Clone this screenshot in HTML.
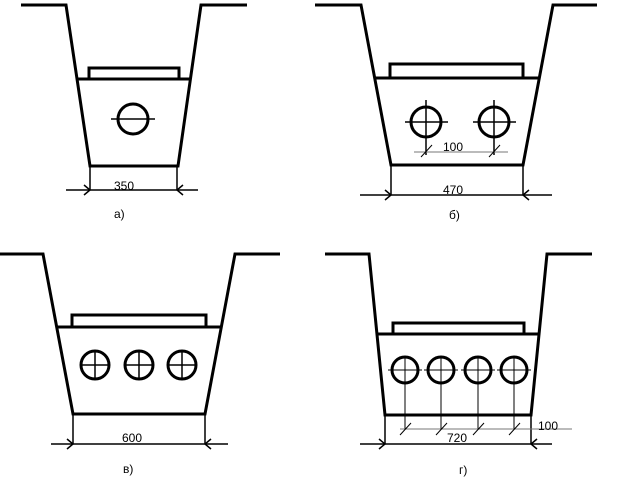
<!DOCTYPE html>
<html><head><meta charset="utf-8"><style>body{margin:0;background:#fff}svg{display:block}text{font-family:"Liberation Sans",sans-serif;font-size:12px;fill:#000;stroke:none}</style></head><body>
<svg width="635" height="488" viewBox="0 0 635 488" xmlns="http://www.w3.org/2000/svg" fill="none" stroke="#000">
<!-- a -->
<g stroke-width="3"><polyline points="21,5 66,5 90,166 178,166 201,5 247,5"/><line x1="77" y1="79" x2="191" y2="79"/><polyline points="89,79 89,68 179,68 179,79"/><circle cx="133" cy="119" r="15"/></g>
<g stroke-width="1.5"><line x1="111" y1="119" x2="155" y2="119"/><line x1="90" y1="166" x2="90" y2="190"/><line x1="177" y1="166" x2="177" y2="190"/><line x1="66" y1="190" x2="198" y2="190"/><polyline points="84,185 90,190 84,195"/><polyline points="183,185 177,190 183,195"/></g>
<text x="114" y="190">350</text><text x="114" y="218">а)</text>
<!-- b -->
<g stroke-width="3"><polyline points="315,5 361,5 391,165 523,165 553,5 597,5"/><line x1="375" y1="78" x2="540" y2="78"/><polyline points="390,78 390,64 523,64 523,78"/><circle cx="426" cy="122" r="15"/><circle cx="494" cy="122" r="15"/></g>
<g stroke-width="1.5"><line x1="405" y1="122" x2="448" y2="122"/><line x1="426" y1="100" x2="426" y2="155"/><line x1="473" y1="122" x2="516" y2="122"/><line x1="494" y1="100" x2="494" y2="155"/><line x1="391" y1="165" x2="391" y2="195"/><line x1="523" y1="165" x2="523" y2="195"/><line x1="360" y1="195" x2="552" y2="195"/><polyline points="385,190 391,195 385,200"/><polyline points="529,190 523,195 529,200"/></g>
<g stroke-width="1"><line x1="414" y1="152" x2="508" y2="152" stroke="#777"/><line x1="421" y1="157" x2="432" y2="145"/><line x1="489" y1="157" x2="500" y2="145"/></g>
<text x="443" y="151" font-size="11">100</text><text x="443" y="194">470</text><text x="449" y="219">б)</text>
<!-- c -->
<g stroke-width="3"><polyline points="0,254 43,254 73,414 205,414 235,254 280,254"/><line x1="58" y1="327" x2="221" y2="327"/><polyline points="72,327 72,315 206,315 206,327"/><circle cx="95" cy="365" r="14"/><circle cx="139" cy="365" r="14"/><circle cx="182" cy="365" r="14"/></g>
<g stroke-width="1.5"><line x1="81" y1="365" x2="109" y2="365"/><line x1="95" y1="351" x2="95" y2="379"/><line x1="125" y1="365" x2="153" y2="365"/><line x1="139" y1="351" x2="139" y2="379"/><line x1="168" y1="365" x2="196" y2="365"/><line x1="182" y1="351" x2="182" y2="379"/><line x1="73" y1="414" x2="73" y2="444"/><line x1="205" y1="414" x2="205" y2="444"/><line x1="51" y1="444" x2="228" y2="444"/><polyline points="67,439 73,444 67,449"/><polyline points="211,439 205,444 211,449"/></g>
<text x="122" y="442">600</text><text x="123" y="473">в)</text>
<!-- d -->
<g stroke-width="3"><polyline points="325,254 369,254 385,415 531,415 547,254 592,254"/><line x1="378" y1="334" x2="538" y2="334"/><polyline points="393,334 393,323 524,323 524,334"/><circle cx="405" cy="370" r="13"/><circle cx="441" cy="370" r="13"/><circle cx="478" cy="370" r="13"/><circle cx="514" cy="370" r="13"/></g>
<g stroke-width="1.5"><line x1="385" y1="415" x2="385" y2="444"/><line x1="531" y1="415" x2="531" y2="444"/><line x1="360" y1="444" x2="552" y2="444"/><polyline points="379,439 385,444 379,449"/><polyline points="537,439 531,444 537,449"/></g>
<g stroke-width="1"><line x1="388" y1="370" x2="422" y2="370"/><line x1="424" y1="370" x2="458" y2="370"/><line x1="461" y1="370" x2="495" y2="370"/><line x1="497" y1="370" x2="531" y2="370"/><line x1="405" y1="357" x2="405" y2="430"/><line x1="441" y1="357" x2="441" y2="430"/><line x1="478" y1="357" x2="478" y2="430"/><line x1="514" y1="357" x2="514" y2="430"/><line x1="400" y1="429" x2="572" y2="429" stroke="#777"/><line x1="400" y1="435" x2="411" y2="423"/><line x1="436" y1="435" x2="447" y2="423"/><line x1="473" y1="435" x2="484" y2="423"/><line x1="509" y1="435" x2="520" y2="423"/></g>
<text x="538" y="430" font-size="11">100</text><text x="447" y="442">720</text><text x="459" y="474">г)</text>
</svg></body></html>
